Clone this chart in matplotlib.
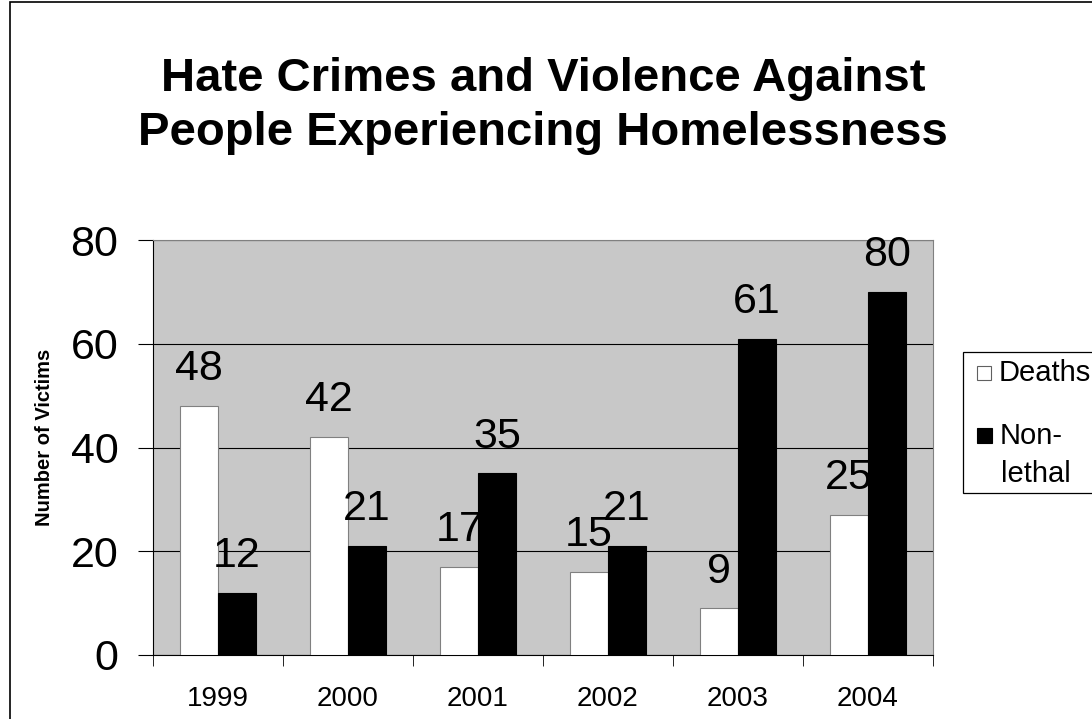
import numpy as np
import matplotlib
matplotlib.use("Agg")
import matplotlib.pyplot as plt
from matplotlib.patches import Rectangle

plt.rcParams['font.family'] = ['Liberation Sans', 'DejaVu Sans']

# Dados
anos = ["1999", "2000", "2001", "2002", "2003", "2004"]
mortes = [48, 42, 17, 16, 9, 27]
nao_letais = [12, 21, 35, 21, 61, 70]
rotulos_mortes = ["48", "42", "17", "15", "9", "25"]
rotulos_nao_letais = ["12", "21", "35", "21", "61", "80"]

fig = plt.figure(figsize=(10.92, 7.19), dpi=100)
ax = fig.add_axes([153/1092, 1-655/719, 780/1092, 415/719])

x = np.arange(len(anos))
w = 0.29

b1 = ax.bar(x - w/2, mortes, w, color="white", edgecolor="#808080", linewidth=0.8, zorder=3)
b2 = ax.bar(x + w/2, nao_letais, w, color="black", edgecolor="black", linewidth=0.8, zorder=3)

for rect, txt in zip(b1, rotulos_mortes):
    ax.annotate(txt, (rect.get_x() + rect.get_width()/2, rect.get_height()),
                xytext=(0, 18.5), textcoords="offset points",
                ha="center", va="baseline", fontsize=31, zorder=4)
for rect, txt in zip(b2, rotulos_nao_letais):
    ax.annotate(txt, (rect.get_x() + rect.get_width()/2, rect.get_height()),
                xytext=(0, 18.5), textcoords="offset points",
                ha="center", va="baseline", fontsize=31, zorder=4)

ax.set_facecolor("#c8c8c8")
ax.set_xlim(-0.5, len(anos) - 0.5)
ax.set_ylim(0, 80)
ax.set_yticks([0, 20, 40, 60, 80])
ax.tick_params(axis="y", labelsize=31, length=11, direction="out", pad=14)
ax.yaxis.grid(True, color="black", linewidth=0.8, zorder=1)

ax.set_xticks(x)
ax.set_xticklabels(anos, fontsize=20)
ax.set_xticks(np.arange(-0.5, len(anos)), minor=True)
ax.tick_params(axis="x", which="major", length=0, pad=22)
ax.tick_params(axis="x", which="minor", length=8, direction="out")

ax.spines["left"].set_color("black")
ax.spines["bottom"].set_color("black")
ax.spines["top"].set_color("#808080")
ax.spines["right"].set_color("#808080")

fig.text(45/1092, 1-437/719, "Number of Victims", rotation=90, ha="center", va="center",
         fontsize=14.5, fontweight="bold")

fig.text(543/1092, 1-106/719, "Hate Crimes and Violence Against\nPeople Experiencing Homelessness",
         ha="center", va="center", fontsize=34, fontweight="bold", linespacing=1.3)

# Legenda manual
fig.patches.append(Rectangle((963/1092, 1-493/719), 0.3, 141/719, transform=fig.transFigure,
                             facecolor="white", edgecolor="black", linewidth=0.9))
fig.patches.append(Rectangle((977/1092, 1-380/719), 14/1092, 14/719, transform=fig.transFigure,
                             facecolor="white", edgecolor="#606060", linewidth=0.8))
fig.patches.append(Rectangle((977/1092, 1-443/719), 15/1092, 15/719, transform=fig.transFigure,
                             facecolor="black", edgecolor="black", linewidth=0.8))
fig.text(999/1092, 1-373/719, "Deaths", ha="left", va="center", fontsize=21)
fig.text(1000/1092, 1-436/719, "Non-", ha="left", va="center", fontsize=21)
fig.text(1001/1092, 1-474/719, "lethal", ha="left", va="center", fontsize=21)

# Moldura
fig.patches.append(Rectangle((10/1092, -0.1), 1.2, 1.1 - 1.5/719, transform=fig.transFigure,
                             fill=False, edgecolor="black", linewidth=1.2))

fig.savefig("out.png", dpi=100)
